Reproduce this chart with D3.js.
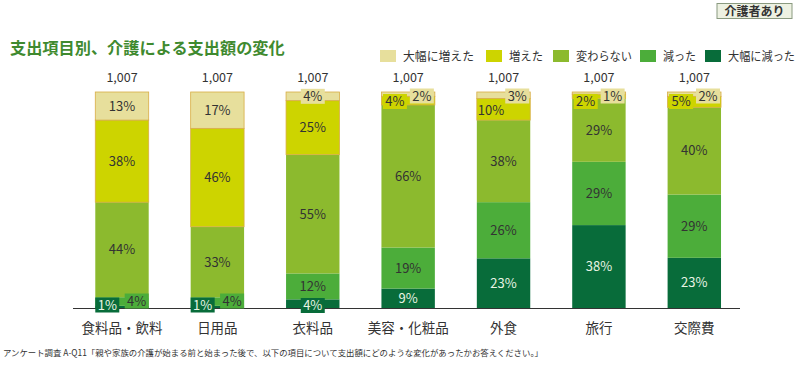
<!DOCTYPE html>
<html><head><meta charset="utf-8">
<script src="https://cdn.jsdelivr.net/npm/d3@7"></script>
<style>html,body{margin:0;padding:0;background:#fff;}svg{display:block;}</style>
</head><body>
<svg id="c" width="800" height="365"></svg>
<script>
const categories = ["食料品・飲料","日用品","衣料品","美容・化粧品","外食","旅行","交際費"];
const seriesNames = ["大幅に減った","減った","変わらない","増えた","大幅に増えた"];
const bigDecrease = [1, 1, 4, 9, 23, 38, 23];
const decrease    = [4, 4, 12, 19, 26, 29, 29];
const noChange    = [44, 33, 55, 66, 38, 29, 40];
const increase    = [38, 46, 25, 4, 10, 2, 5];
const bigIncrease = [13, 17, 4, 2, 3, 1, 2];
const counts = ["1,007","1,007","1,007","1,007","1,007","1,007","1,007"];
const legendOrder = ["大幅に増えた","増えた","変わらない","減った","大幅に減った"];
const colors = {"大幅に減った":"#086c3a","減った":"#4cad3a","変わらない":"#8cba2e","増えた":"#cdd400","大幅に増えた":"#e7df9c"};
const titleText = "支出項目別、介護による支出額の変化";
const badgeText = "介護者あり";
const footnote = "アンケート調査 A-Q11「親や家族の介護が始まる前と始まった後で、以下の項目について支出額にどのような変化があったかお答えください。」";

const seriesVals = [bigDecrease, decrease, noChange, increase, bigIncrease];
const rows = categories.map((c,i)=>{const o={cat:c}; seriesNames.forEach((s,k)=>o[s]=seriesVals[k][i]); return o;});

const svg = d3.select("#c");
const FONT = "'Noto Sans CJK JP','Noto Sans',sans-serif";
svg.style("font-family", FONT);

const baseY = 308, topY = 92;
const x = d3.scaleBand().domain(categories).range([74.3, 742]).paddingInner(0.44).paddingOuter(0.22);
const y = d3.scaleLinear().domain([0,1]).range([baseY, topY]);
const stack = d3.stack().keys(seriesNames).offset(d3.stackOffsetExpand);
const stacked = stack(rows);

// title
svg.append("text").attr("x",10).attr("y",54).text(titleText)
  .attr("font-size",16.2).attr("font-weight","bold").attr("fill","#3f8a2f");

// badge
const bg = svg.append("g");
bg.append("rect").attr("x",717).attr("y",3.5).attr("width",75).attr("height",15)
  .attr("fill","#edf1e2").attr("stroke","#8a9a80").attr("stroke-width",1);
bg.append("text").attr("x",754.5).attr("y",15.5).attr("text-anchor","middle")
  .attr("font-size",12).attr("font-weight","bold").attr("fill","#333").text(badgeText);

// legend
const legX = [380, 486, 553, 640, 705];
const legW = [71, 34, 56, 33, 67];
const lg = svg.append("g");
legendOrder.forEach((s,i)=>{
  lg.append("rect").attr("x",legX[i]).attr("y",50).attr("width",16).attr("height",12).attr("fill",colors[s]);
  lg.append("text").attr("x",legX[i]+23).attr("y",60.5).attr("font-size",12).attr("fill","#333")
    .attr("textLength",legW[i]).attr("lengthAdjust","spacingAndGlyphs").text(s);
});

// bars
const gBars = svg.append("g");
stacked.forEach(layer=>{
  const name = layer.key;
  gBars.selectAll(null).data(layer).join("rect")
    .attr("x", d=>x(d.data.cat))
    .attr("y", d=>y(d[1]))
    .attr("width", x.bandwidth())
    .attr("height", d=>y(d[0])-y(d[1]))
    .attr("fill", colors[name])
    .attr("stroke", (name==="増えた"||name==="大幅に増えた") ? "#d8ad45" : "none")
    .attr("stroke-width", 0.8);
});

// baseline
svg.append("line").attr("x1",73).attr("x2",740).attr("y1",baseY+0.5).attr("y2",baseY+0.5)
  .attr("stroke","#333").attr("stroke-width",1);

// labels
const gl = svg.append("g").attr("font-size",13);
function boxLabel(cx, cy, txt, fill, dark){
  const w = 24, h = 15;
  gl.append("rect").attr("x",cx-w/2).attr("y",cy-h/2).attr("width",w).attr("height",h).attr("fill",fill);
  gl.append("text").attr("x",cx).attr("y",cy+4.5).attr("text-anchor","middle")
    .attr("fill", dark ? "#e8f4e4" : "#333").text(txt);
}
categories.forEach((c,i)=>{
  const x0 = x(c), bw = x.bandwidth(), xm = x0+bw/2;
  const vals = seriesVals.map(a=>a[i]);
  stacked.forEach((layer,k)=>{
    const d = layer[i], v = vals[k], name = layer.key;
    const y1 = y(d[1]), y0 = y(d[0]), ym = (y0+y1)/2;
    const dark = name==="大幅に減った";
    const txt = v+"%";
    if (k>=3) {
      const pairSplit = vals[4] < 6 && vals[3] < 12;
      if (k===4 && v<6) {
        if (pairSplit) boxLabel(x0+bw-13, topY+4, txt, colors[name], false);
        else boxLabel(xm, ym, txt, colors[name], false);
        return;
      }
      if (k===3 && pairSplit) {
        if (v<6) boxLabel(x0+13.5, topY+9.5, txt, colors[name], false);
        else gl.append("text").attr("x",x0+1).attr("y",ym+5.5).attr("fill","#333").text(txt);
        return;
      }
    }
    if (k<=1) {
      const pairSplit = vals[0] < 6 && vals[1] < 6;
      if (pairSplit) {
        if (k===0) boxLabel(x0+12, baseY-3, txt, colors[name], true);
        else boxLabel(x0+bw-12, baseY-7, txt, colors[name], false);
        return;
      }
      if (v<6) { boxLabel(xm, baseY-2.5, txt, colors[name], dark); return; }
    }
    gl.append("text").attr("x",xm).attr("y",ym+4.5).attr("text-anchor","middle")
      .attr("fill", dark ? "#e8f4e4" : "#333").text(txt);
  });
});

// counts
svg.append("g").selectAll("text").data(categories).join("text")
  .attr("x", c=>x(c)+x.bandwidth()/2).attr("y",82).attr("text-anchor","middle")
  .attr("font-size",12.5).attr("fill","#333").text((c,i)=>counts[i]);

// category axis labels
svg.append("g").selectAll("text").data(categories).join("text")
  .attr("x", c=>x(c)+x.bandwidth()/2).attr("y",333).attr("text-anchor","middle")
  .attr("font-size",13.5).attr("fill","#333").text(c=>c);

// footnote
svg.append("text").attr("x",3).attr("y",356).attr("font-size",8.5).attr("fill","#333")
  .attr("textLength",540).attr("lengthAdjust","spacingAndGlyphs").text(footnote);
</script>
</body></html>
